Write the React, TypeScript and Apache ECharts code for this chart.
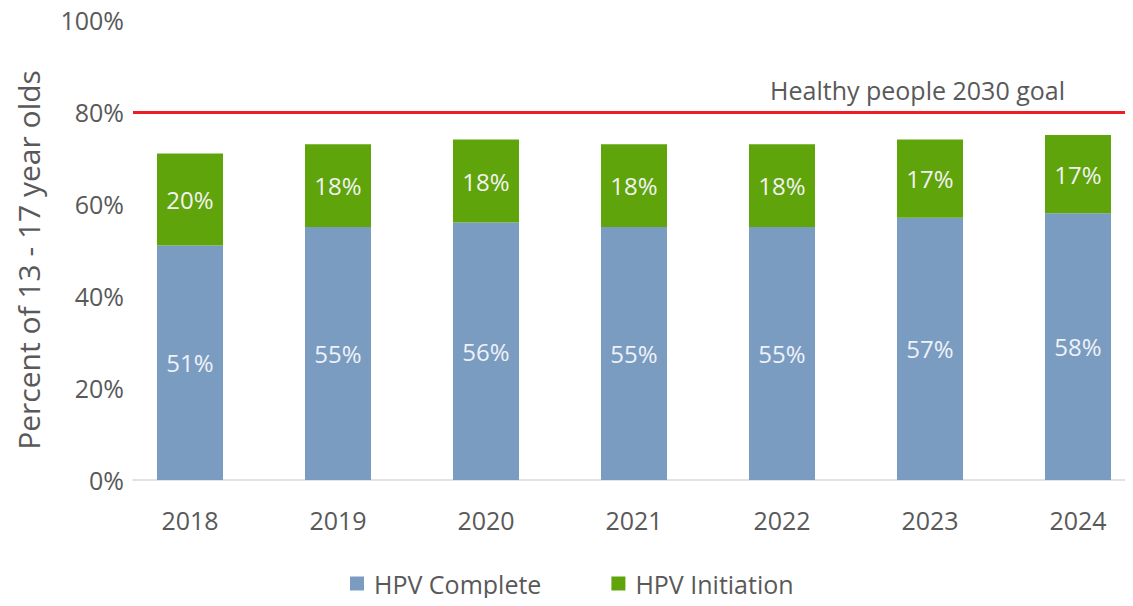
import React, { useEffect, useRef } from "react";
import * as echarts from "echarts";

const years = ["2018", "2019", "2020", "2021", "2022", "2023", "2024"];
const hpvComplete = [51, 55, 56, 55, 55, 57, 58];
const hpvInitiation = [20, 18, 18, 18, 18, 17, 17];
const goalValue = 80;
const goalLabel = "Healthy people 2030 goal";

const FONT = "Open Sans";
const GRAY = "#595959";

export default function App() {
  const ref = useRef<HTMLDivElement>(null);
  useEffect(() => {
    if (!ref.current) return;
    const chart = echarts.init(ref.current, undefined, { renderer: "svg" });
    chart.setOption({
      animation: false,
      textStyle: { fontFamily: FONT },
      grid: [
        { left: 116, width: 1036, top: 20, height: 460 },
        { left: 133, width: 1000, top: 20, height: 460 },
      ],
      legend: {
        top: 566,
        left: 345,
        itemWidth: 14,
        itemHeight: 14,
        itemGap: 70,
        icon: "rect",
        textStyle: { fontSize: 25, color: GRAY, fontFamily: FONT, padding: [0, 0, 0, 5] },
        data: ["HPV Complete", "HPV Initiation"],
      },
      xAxis: [
        {
          type: "category",
          gridIndex: 0,
          data: years,
          axisLine: { show: false },
          axisTick: { show: false },
          axisLabel: { fontSize: 25, color: GRAY, margin: 27, fontFamily: FONT },
        },
        {
          type: "value",
          gridIndex: 1,
          min: 0,
          max: 1,
          axisLine: { show: true, lineStyle: { color: "#d9d9d9", width: 1.5 } },
          axisTick: { show: false },
          axisLabel: { show: false },
          splitLine: { show: false },
        },
      ],
      yAxis: [
        {
          type: "value",
          gridIndex: 0,
          min: 0,
          max: 100,
          show: false,
        },
        {
          type: "value",
          gridIndex: 1,
          min: 0,
          max: 100,
          interval: 20,
          name: "Percent of 13 - 17 year olds",
          nameLocation: "middle",
          nameGap: 90,
          nameTextStyle: { fontSize: 30, color: GRAY, fontFamily: FONT, padding: [0, 20, 0, 0] },
          axisLine: { show: false },
          axisTick: { show: false },
          splitLine: { show: false },
          axisLabel: {
            fontSize: 25,
            color: GRAY,
            margin: 9,
            fontFamily: FONT,
            formatter: (v: number) => v + "%",
          },
        },
      ],
      series: [
        {
          name: "HPV Complete",
          type: "bar",
          stack: "total",
          xAxisIndex: 0,
          yAxisIndex: 0,
          barWidth: 66,
          data: hpvComplete,
          itemStyle: { color: "#7a9cc1" },
          label: {
            show: true,
            position: "inside",
            formatter: "{c}%",
            fontSize: 24,
            color: "#eef2f8",
            fontFamily: FONT,
          },
        },
        {
          name: "HPV Initiation",
          type: "bar",
          stack: "total",
          xAxisIndex: 0,
          yAxisIndex: 0,
          barWidth: 66,
          data: hpvInitiation,
          itemStyle: { color: "#5fa40a" },
          label: {
            show: true,
            position: "inside",
            formatter: "{c}%",
            fontSize: 24,
            color: "#f2f2f2",
            fontFamily: FONT,
          },
        },
        {
          name: "goal",
          type: "line",
          xAxisIndex: 1,
          yAxisIndex: 1,
          data: [],
          markLine: {
            symbol: "none",
            silent: true,
            lineStyle: { color: "#ee1c25", width: 3, type: "solid" },
            label: {
              show: true,
              position: "insideEndTop",
              formatter: goalLabel,
              fontSize: 25,
              color: GRAY,
              fontFamily: FONT,
              distance: [68, 10],
            },
            data: [{ yAxis: goalValue }],
          },
        },
      ],
    });
    return () => chart.dispose();
  }, []);
  return (
    <div style={{ width: 1133, height: 606, margin: -8, overflow: "hidden" }}>
      <div ref={ref} style={{ width: 1160, height: 606 }} />
    </div>
  );
}
